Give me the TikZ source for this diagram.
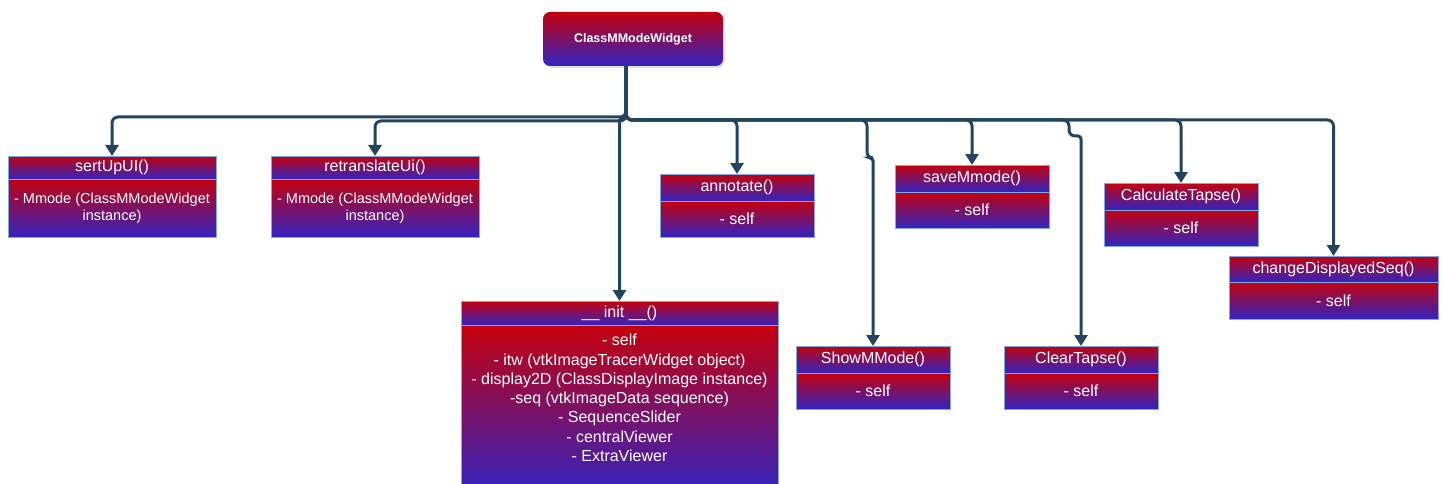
\documentclass[tikz,border=0pt]{standalone}
\usepackage{fontspec}
\setmainfont{Liberation Sans}
\usetikzlibrary{arrows.meta,positioning,shadows}
\definecolor{topred}{HTML}{C4000C}
\definecolor{botblue}{HTML}{3224C0}
\definecolor{boxline}{HTML}{7EA6E0}
\definecolor{linkc}{HTML}{23445D}

\begin{document}
\begin{tikzpicture}[x=1pt, y=-1pt,
  >={Triangle[width=13pt,length=11pt]},
  rootbox/.style={draw=none, rounded corners=7pt, top color=topred, bottom color=botblue,
    minimum width=180pt, minimum height=54pt, text=white, font=\fontsize{12.5}{15}\selectfont\bfseries,
    drop shadow={opacity=0.25, shadow xshift=1.5pt, shadow yshift=-2pt}},
  head/.style 2 args={anchor=north west, draw=boxline, line width=0.9pt, top color=topred, bottom color=botblue,
    minimum width=#1, minimum height=#2, inner sep=0pt, outer sep=0pt, text=white,
    font=\fontsize{16}{19.3}\selectfont},
  body/.style 2 args={anchor=north, draw=boxline, line width=0.9pt, top color=topred, bottom color=botblue,
    minimum width=#1, minimum height=#2, inner sep=0pt, outer sep=0pt, text=white, align=center,
    font=\fontsize{16}{19.3}\selectfont},
  small/.style={font=\fontsize{14.5}{17}\selectfont},
  link/.style={->, line width=3pt, draw=linkc, rounded corners=6pt},
]
\useasboundingbox (0,0) rectangle (1445,484);
\clip (0,0) rectangle (1445,484);

% root class
\node[rootbox] (root) at (633,39) {ClassMModeWidget};
\coordinate (stem) at (626,66);

% method boxes
\node[head={208pt}{23pt}] (setup) at (8,156) {sertUpUI()};
\node[body={208pt}{58pt}, small, below=0pt of setup] (setupB) {- Mmode (ClassMModeWidget\\instance)};

\node[head={208pt}{23pt}] (retrans) at (271,156) {retranslateUi()};
\node[body={208pt}{58pt}, small, below=0pt of retrans] (retransB) {- Mmode (ClassMModeWidget\\instance)};

\node[head={154pt}{27pt}] (annot) at (660,174) {annotate()};
\node[body={154pt}{36pt}, below=0pt of annot] (annotB) {- self};

\node[head={154pt}{27pt}] (save) at (895,165) {saveMmode()};
\node[body={154pt}{36pt}, below=0pt of save] (saveB) {- self};

\node[head={154pt}{27pt}] (calc) at (1104,183) {CalculateTapse()};
\node[body={154pt}{36pt}, below=0pt of calc] (calcB) {- self};

\node[head={209pt}{26pt}] (change) at (1229,256) {changeDisplayedSeq()};
\node[body={209pt}{37pt}, below=0pt of change] (changeB) {- self};

\node[head={317pt}{24pt}] (init) at (461,301) {\_\_ init \_\_()};
\node[body={317pt}{170pt}, below=0pt of init] (initB) {- self\\- itw (vtkImageTracerWidget object)\\- display2D (ClassDisplayImage instance)\\-seq (vtkImageData sequence)\\- SequenceSlider\\- centralViewer\\- ExtraViewer\\[5pt]\mbox{}};

\node[head={154pt}{27pt}] (show) at (796,346) {ShowMMode()};
\node[body={154pt}{36pt}, below=0pt of show] (showB) {- self};

\node[head={154pt}{27pt}] (clear) at (1004,346) {ClearTapse()};
\node[body={154pt}{36pt}, below=0pt of clear] (clearB) {- self};

% connectors
\draw[link] (stem) -- (626,117) -| (setup.north);
\draw[link] (stem) -- (626,121) -| (retrans.north);
\draw[link, rounded corners=3pt] (stem) -- (626,118) -| (init.north);
\draw[link] (stem) -- (626,120) -| (annot.north);
\draw[link] (stem) -- (626,120) -| (save.north);
\draw[link] (stem) -- (626,120) -| (calc.north);
\draw[link] (stem) -- (626,120) -| (change.north);
\draw[link] (stem) -- (626,120) -- (867,120) -- (867,158) [rounded corners=3pt] -| (show.north);
\draw[link] (stem) -- (626,120) -- (1069,120) -- (1069,136) [rounded corners=3pt] -| (clear.north);

\end{tikzpicture}
\end{document}
